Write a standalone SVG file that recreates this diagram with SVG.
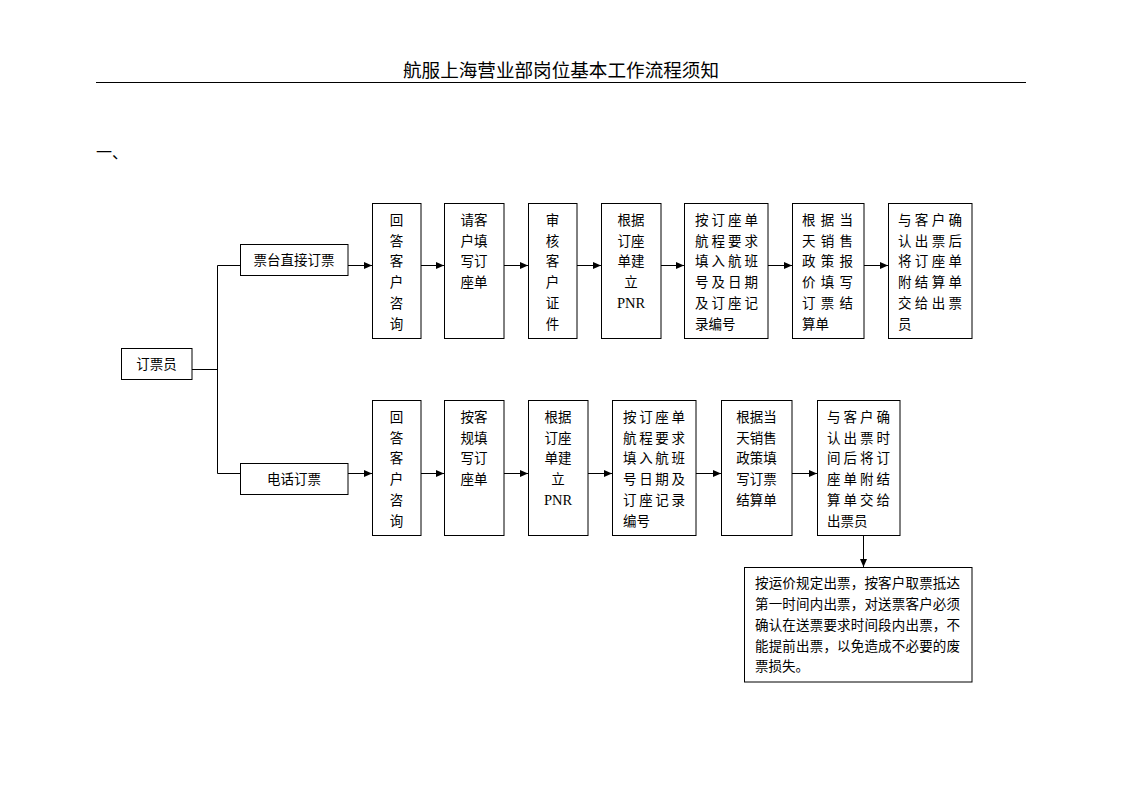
<svg xmlns="http://www.w3.org/2000/svg" width="1122" height="793" viewBox="0 0 1122 793">
<style>
text{font-family:"Liberation Serif","Noto Sans CJK SC",serif;fill:#000;}
.t{font-size:13.5px;}
.m{text-anchor:middle;}
.p{font-size:14.5px;}
.box{fill:#fff;stroke:#000;stroke-width:1;}
.ln{fill:none;stroke:#000;stroke-width:1;}
</style>
<defs>
<marker id="ah" markerUnits="userSpaceOnUse" markerWidth="9" markerHeight="8" refX="8" refY="3.5" orient="auto">
<path d="M0,0 L8,3.5 L0,7 z" fill="#000"/>
</marker>
</defs>
<rect width="1122" height="793" fill="#fff"/>
<g id="header">
<text x="561" y="77" class="m" style="font-size:18.5px" textLength="316" lengthAdjust="spacingAndGlyphs">航服上海营业部岗位基本工作流程须知</text>
<line x1="96" y1="82.5" x2="1026" y2="82.5" stroke="#000" stroke-width="1"/>
<text x="96" y="158" style="font-size:16px">一、</text>
</g>
<g id="connectors">
<polyline class="ln" points="192,369.5 217.5,369.5"/>
<polyline class="ln" points="240,265.5 217.5,265.5 217.5,473.5 240,473.5"/>
<line class="ln" x1="348" y1="265.5" x2="372" y2="265.5" marker-end="url(#ah)"/>
<line class="ln" x1="421" y1="265.5" x2="444" y2="265.5" marker-end="url(#ah)"/>
<line class="ln" x1="504" y1="265.5" x2="528" y2="265.5" marker-end="url(#ah)"/>
<line class="ln" x1="577" y1="265.5" x2="601" y2="265.5" marker-end="url(#ah)"/>
<line class="ln" x1="661" y1="265.5" x2="684" y2="265.5" marker-end="url(#ah)"/>
<line class="ln" x1="768" y1="265.5" x2="792" y2="265.5" marker-end="url(#ah)"/>
<line class="ln" x1="864" y1="265.5" x2="888" y2="265.5" marker-end="url(#ah)"/>
<line class="ln" x1="348" y1="473.5" x2="372" y2="473.5" marker-end="url(#ah)"/>
<line class="ln" x1="421" y1="473.5" x2="444" y2="473.5" marker-end="url(#ah)"/>
<line class="ln" x1="504" y1="473.5" x2="528" y2="473.5" marker-end="url(#ah)"/>
<line class="ln" x1="588" y1="473.5" x2="612" y2="473.5" marker-end="url(#ah)"/>
<line class="ln" x1="696" y1="473.5" x2="721" y2="473.5" marker-end="url(#ah)"/>
<line class="ln" x1="792" y1="473.5" x2="817" y2="473.5" marker-end="url(#ah)"/>
<line class="ln" x1="863.5" y1="535" x2="863.5" y2="567" marker-end="url(#ah)"/>
</g>
<g id="n-root">
<rect class="box" x="121.5" y="348.5" width="70.5" height="31"/>
<text class="t m" x="156.5" y="369">订票员</text>
</g>
<g id="n-counter">
<rect class="box" x="240.5" y="244.5" width="107.5" height="31"/>
<text class="t m" x="294" y="265">票台直接订票</text>
</g>
<g id="n-phone">
<rect class="box" x="240.5" y="463.5" width="107.5" height="31"/>
<text class="t m" x="294" y="484">电话订票</text>
</g>
<g id="t1">
<rect class="box" x="372.5" y="203.5" width="48.5" height="135"/>
<text class="t m" x="396.5" y="225">回</text>
<text class="t m" x="396.5" y="245.7">答</text>
<text class="t m" x="396.5" y="266.4">客</text>
<text class="t m" x="396.5" y="287">户</text>
<text class="t m" x="396.5" y="307.8">咨</text>
<text class="t m" x="396.5" y="328.5">询</text>
</g>
<g id="t2">
<rect class="box" x="444.5" y="203.5" width="59.5" height="135"/>
<text class="t m" x="474" y="225">请客</text>
<text class="t m" x="474" y="245.7">户填</text>
<text class="t m" x="474" y="266.4">写订</text>
<text class="t m" x="474" y="287">座单</text>
</g>
<g id="t3">
<rect class="box" x="528.5" y="203.5" width="48.5" height="135"/>
<text class="t m" x="552.5" y="225">审</text>
<text class="t m" x="552.5" y="245.7">核</text>
<text class="t m" x="552.5" y="266.4">客</text>
<text class="t m" x="552.5" y="287">户</text>
<text class="t m" x="552.5" y="307.8">证</text>
<text class="t m" x="552.5" y="328.5">件</text>
</g>
<g id="t4">
<rect class="box" x="601.5" y="203.5" width="59.5" height="135"/>
<text class="t m" x="631" y="225">根据</text>
<text class="t m" x="631" y="245.7">订座</text>
<text class="t m" x="631" y="266.4">单建</text>
<text class="t m" x="631" y="287">立</text>
<text class="p m" x="631" y="308">PNR</text>
</g>
<g id="t5">
<rect class="box" x="684.5" y="203.5" width="83.5" height="135"/>
<text class="t" x="695" y="225" textLength="63" lengthAdjust="spacing">按订座单</text>
<text class="t" x="695" y="245.7" textLength="63" lengthAdjust="spacing">航程要求</text>
<text class="t" x="695" y="266.4" textLength="63" lengthAdjust="spacing">填入航班</text>
<text class="t" x="695" y="287" textLength="63" lengthAdjust="spacing">号及日期</text>
<text class="t" x="695" y="307.8" textLength="63" lengthAdjust="spacing">及订座记</text>
<text class="t" x="695" y="328.5">录编号</text>
</g>
<g id="t6">
<rect class="box" x="792.5" y="203.5" width="71.5" height="135"/>
<text class="t" x="802" y="225" textLength="51" lengthAdjust="spacing">根据当</text>
<text class="t" x="802" y="245.7" textLength="51" lengthAdjust="spacing">天销售</text>
<text class="t" x="802" y="266.4" textLength="51" lengthAdjust="spacing">政策报</text>
<text class="t" x="802" y="287" textLength="51" lengthAdjust="spacing">价填写</text>
<text class="t" x="802" y="307.8" textLength="51" lengthAdjust="spacing">订票结</text>
<text class="t" x="802" y="328.5">算单</text>
</g>
<g id="t7">
<rect class="box" x="888.5" y="203.5" width="83.5" height="135"/>
<text class="t" x="898" y="225" textLength="64" lengthAdjust="spacing">与客户确</text>
<text class="t" x="898" y="245.7" textLength="64" lengthAdjust="spacing">认出票后</text>
<text class="t" x="898" y="266.4" textLength="64" lengthAdjust="spacing">将订座单</text>
<text class="t" x="898" y="287" textLength="64" lengthAdjust="spacing">附结算单</text>
<text class="t" x="898" y="307.8" textLength="64" lengthAdjust="spacing">交给出票</text>
<text class="t" x="898" y="328.5">员</text>
</g>
<g id="p1">
<rect class="box" x="372.5" y="400.5" width="48.5" height="135"/>
<text class="t m" x="396.5" y="422">回</text>
<text class="t m" x="396.5" y="442.7">答</text>
<text class="t m" x="396.5" y="463.4">客</text>
<text class="t m" x="396.5" y="484">户</text>
<text class="t m" x="396.5" y="504.8">咨</text>
<text class="t m" x="396.5" y="525.5">询</text>
</g>
<g id="p2">
<rect class="box" x="444.5" y="400.5" width="59.5" height="135"/>
<text class="t m" x="474" y="422">按客</text>
<text class="t m" x="474" y="442.7">规填</text>
<text class="t m" x="474" y="463.4">写订</text>
<text class="t m" x="474" y="484">座单</text>
</g>
<g id="p3">
<rect class="box" x="528.5" y="400.5" width="59.5" height="135"/>
<text class="t m" x="558" y="422">根据</text>
<text class="t m" x="558" y="442.7">订座</text>
<text class="t m" x="558" y="463.4">单建</text>
<text class="t m" x="558" y="484">立</text>
<text class="p m" x="558" y="505">PNR</text>
</g>
<g id="p4">
<rect class="box" x="612.5" y="400.5" width="83.5" height="135"/>
<text class="t" x="623" y="422" textLength="62" lengthAdjust="spacing">按订座单</text>
<text class="t" x="623" y="442.7" textLength="62" lengthAdjust="spacing">航程要求</text>
<text class="t" x="623" y="463.4" textLength="62" lengthAdjust="spacing">填入航班</text>
<text class="t" x="623" y="484" textLength="62" lengthAdjust="spacing">号日期及</text>
<text class="t" x="623" y="504.8" textLength="62" lengthAdjust="spacing">订座记录</text>
<text class="t" x="623" y="525.5">编号</text>
</g>
<g id="p5">
<rect class="box" x="721.5" y="400.5" width="70.5" height="135"/>
<text class="t m" x="756.5" y="422">根据当</text>
<text class="t m" x="756.5" y="442.7">天销售</text>
<text class="t m" x="756.5" y="463.4">政策填</text>
<text class="t m" x="756.5" y="484">写订票</text>
<text class="t m" x="756.5" y="504.8">结算单</text>
</g>
<g id="p6">
<rect class="box" x="817.5" y="400.5" width="82.5" height="135"/>
<text class="t" x="827" y="422" textLength="63" lengthAdjust="spacing">与客户确</text>
<text class="t" x="827" y="442.7" textLength="63" lengthAdjust="spacing">认出票时</text>
<text class="t" x="827" y="463.4" textLength="63" lengthAdjust="spacing">间后将订</text>
<text class="t" x="827" y="484" textLength="63" lengthAdjust="spacing">座单附结</text>
<text class="t" x="827" y="504.8" textLength="63" lengthAdjust="spacing">算单交给</text>
<text class="t" x="827" y="525.5">出票员</text>
</g>
<g id="note">
<rect class="box" x="744.5" y="567.5" width="227.5" height="114.5"/>
<text class="t" x="755" y="588" textLength="205" lengthAdjust="spacing">按运价规定出票，按客户取票抵达</text>
<text class="t" x="755" y="609" textLength="205" lengthAdjust="spacing">第一时间内出票，对送票客户必须</text>
<text class="t" x="755" y="630" textLength="205" lengthAdjust="spacing">确认在送票要求时间段内出票，不</text>
<text class="t" x="755" y="651" textLength="205" lengthAdjust="spacing">能提前出票，以免造成不必要的废</text>
<text class="t" x="755" y="671">票损失。</text>
</g>
</svg>
